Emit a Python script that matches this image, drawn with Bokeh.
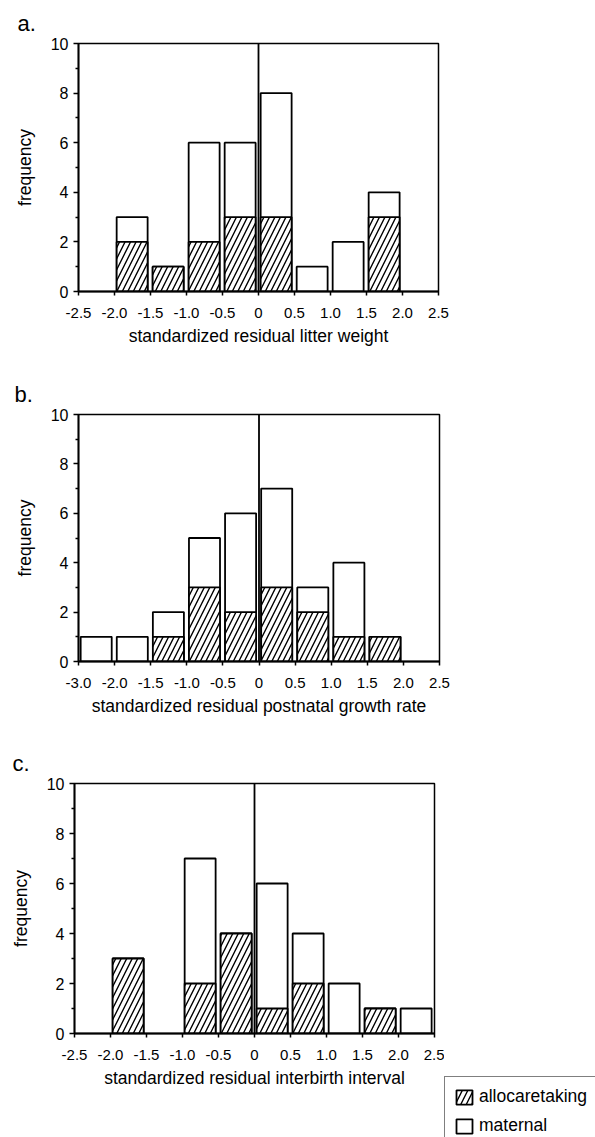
from bokeh.plotting import figure
from bokeh.models import (ColumnDataSource, FixedTicker, Span, Legend,
                          LegendItem, Range1d, Spacer)
from bokeh.layouts import column, row
from bokeh.embed import file_html
from bokeh.resources import INLINE

# ---- data ----
bin_left = [-2.5, -2.0, -1.5, -1.0, -0.5, 0.0, 0.5, 1.0, 1.5, 2.0]
bin_width = 0.5
x_ticks = [-2.5, -2.0, -1.5, -1.0, -0.5, 0.0, 0.5, 1.0, 1.5, 2.0, 2.5]
labels_a = ["-2.5", "-2.0", "-1.5", "-1.0", "-0.5", "0", "0.5", "1.0", "1.5", "2.0", "2.5"]
labels_b = ["-3.0", "-2.0", "-1.5", "-1.0", "-0.5", "0", "0.5", "1.0", "1.5", "2.0", "2.5"]
labels_c = ["-2.5", "-2.0", "-1.5", "-1.0", "-0.5", "0", "0.5", "1.0", "1.5", "2.0", "2.5"]

total_a = [0, 3, 1, 6, 6, 8, 1, 2, 4, 0]
allo_a = [0, 2, 1, 2, 3, 3, 0, 0, 3, 0]
total_b = [1, 1, 2, 5, 6, 7, 3, 4, 1, 0]
allo_b = [0, 0, 1, 3, 2, 3, 2, 1, 1, 0]
total_c = [0, 3, 0, 7, 4, 6, 4, 2, 1, 1]
allo_c = [0, 3, 0, 2, 4, 1, 2, 0, 1, 0]

xlabel_a = "standardized residual litter weight"
xlabel_b = "standardized residual postnatal growth rate"
xlabel_c = "standardized residual interbirth interval"
ylabel = "frequency"
y_ticks = [0, 2, 4, 6, 8, 10]
y_minor = [1, 3, 5, 7, 9]
legend_labels = ["allocaretaking", "maternal"]

FONT = "Liberation Sans"
LW = 1.8
ALLO_STYLE = dict(fill_color="white", line_color="black", line_width=LW,
                  hatch_pattern="/", hatch_color="black", hatch_scale=11,
                  hatch_weight=1.4)
MAT_STYLE = dict(fill_color="white", line_color="black", line_width=LW)


def panel(letter, total, allo, tick_labels, xlabel, left, top, fh, bottom,
          right, fw, letter_x):
    p = figure(frame_width=fw, frame_height=fh, output_backend="svg",
               toolbar_location=None, x_range=Range1d(-2.5, 2.5),
               y_range=Range1d(0, 10), min_border_left=left,
               min_border_top=top, min_border_bottom=bottom,
               min_border_right=right)
    p.grid.visible = False
    p.outline_line_color = "black"
    p.outline_line_width = 1.5
    p.background_fill_color = "white"
    p.border_fill_color = "white"

    p.title.text = letter
    p.title.align = "left"
    p.title.offset = letter_x - left
    p.title.text_font = FONT
    p.title.text_font_size = "22px"
    p.title.text_font_style = "normal"
    p.title.text_color = "black"
    p.title.standoff = 16

    lo = [b + 0.03 for b in bin_left]
    hi = [b + bin_width - 0.04 for b in bin_left]
    mat = ColumnDataSource(dict(
        left=[l for l, t in zip(lo, total) if t > 0],
        right=[h for h, t in zip(hi, total) if t > 0],
        top=[t for t in total if t > 0]))
    al = ColumnDataSource(dict(
        left=[l for l, a in zip(lo, allo) if a > 0],
        right=[h for h, a in zip(hi, allo) if a > 0],
        top=[a for a in allo if a > 0]))
    p.quad(left="left", right="right", bottom=0, top="top", source=mat,
           **MAT_STYLE)
    p.quad(left="left", right="right", bottom=0, top="top", source=al,
           **ALLO_STYLE)

    p.add_layout(Span(location=0, dimension="height", line_color="black",
                      line_width=LW))

    xa = p.xaxis[0]
    xa.ticker = FixedTicker(ticks=x_ticks, minor_ticks=[])
    xa.major_label_overrides = {t: s for t, s in zip(x_ticks, tick_labels)}
    xa.axis_label = xlabel
    xa.axis_line_width = 2
    xa.major_tick_in = 0
    xa.major_tick_out = 4
    xa.major_tick_line_width = 1.5
    xa.major_label_standoff = 12
    xa.axis_label_standoff = 5
    xa.major_label_text_font = FONT
    xa.major_label_text_font_size = "15px"
    xa.major_label_text_color = "black"
    xa.axis_label_text_font = FONT
    xa.axis_label_text_font_size = "17.5px"
    xa.axis_label_text_font_style = "normal"
    xa.axis_label_text_color = "black"

    ya = p.yaxis[0]
    ya.ticker = FixedTicker(ticks=y_ticks, minor_ticks=y_minor)
    ya.axis_label = ylabel
    ya.axis_line_width = 1.8
    ya.major_tick_in = 0
    ya.major_tick_out = 5
    ya.minor_tick_in = 0
    ya.minor_tick_out = 3
    ya.major_tick_line_width = 1.5
    ya.minor_tick_line_width = 1.5
    ya.major_label_standoff = 5
    ya.axis_label_standoff = 13
    ya.major_label_text_font = FONT
    ya.major_label_text_font_size = "16px"
    ya.major_label_text_color = "black"
    ya.axis_label_text_font = FONT
    ya.axis_label_text_font_size = "17.5px"
    ya.axis_label_text_font_style = "normal"
    ya.axis_label_text_color = "black"
    return p


pa = panel("a.", total_a, allo_a, labels_a, xlabel_a, 78, 42, 248, 70,
           20, 360, 17)
pb = panel("b.", total_b, allo_b, labels_b, xlabel_b, 76, 53, 247, 70,
           20, 361, 12)
pc = panel("c.", total_c, allo_c, labels_c, xlabel_c, 74, 52, 250, 104,
           10, 360, 12)

# small legend figure below-right of panel c (proxy glyphs lie outside range)
pl = figure(width=151, height=62, output_backend="svg", toolbar_location=None,
            x_range=Range1d(0, 1), y_range=Range1d(0, 1),
            x_axis_location=None, y_axis_location=None,
            min_border_left=0, min_border_right=0, min_border_top=0,
            min_border_bottom=0)
pl.title.visible = False
pl.grid.visible = False
pl.outline_line_color = None
proxy = dict(left=[5], right=[6], top=[6], bottom=[5])
r_allo = pl.quad(left="left", right="right", bottom="bottom", top="top",
                 source=ColumnDataSource(proxy), **ALLO_STYLE)
r_mat = pl.quad(left="left", right="right", bottom="bottom", top="top",
                source=ColumnDataSource(proxy), **MAT_STYLE)
legend = Legend(items=[LegendItem(label=legend_labels[0], renderers=[r_allo]),
                       LegendItem(label=legend_labels[1], renderers=[r_mat])],
                location="top_left", glyph_width=20, glyph_height=18,
                label_height=18, spacing=8, padding=9, margin=0,
                label_standoff=5, label_text_font=FONT,
                label_text_font_size="17.5px", label_text_color="black",
                border_line_color="black", border_line_width=1.5,
                background_fill_alpha=1.0)
pl.add_layout(legend)

layout = column(pa, pb,
                row(pc, column(Spacer(width=151, height=345), pl, spacing=0),
                    spacing=0),
                spacing=0)
open("out.html", "w").write(file_html(layout, INLINE))
